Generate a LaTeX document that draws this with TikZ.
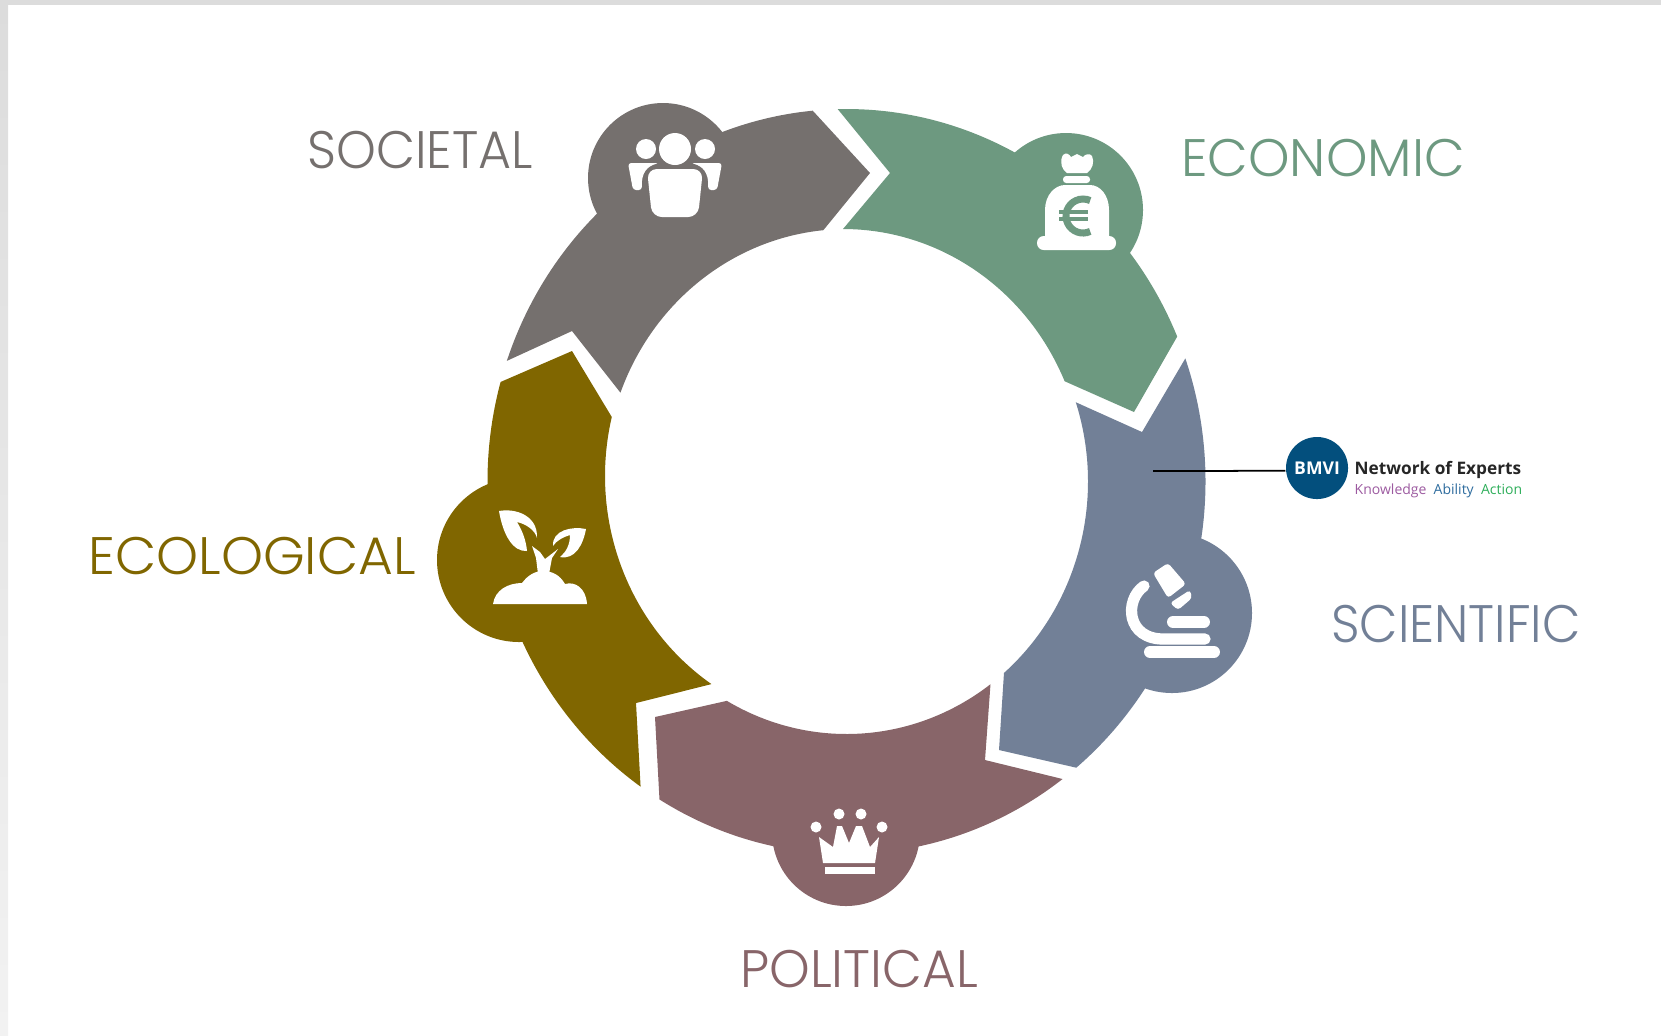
\documentclass[tikz,border=0pt]{standalone}
\usepackage{graphicx}
\usepackage{fontspec}
\setmainfont{Poppins Light}
\newfontfamily\logofont{Open Sans}
\usetikzlibrary{positioning}
\definecolor{societal}{HTML}{75706E}
\definecolor{economic}{HTML}{6D9980}
\definecolor{scientific}{HTML}{728097}
\definecolor{political}{HTML}{886569}
\definecolor{ecological}{HTML}{806600}
\definecolor{bmviblue}{HTML}{034F7D}
\definecolor{logopurple}{HTML}{9C5AA0}
\definecolor{logoblue}{HTML}{2E6C9E}
\definecolor{logogreen}{HTML}{2EAE5A}
\definecolor{frametop}{HTML}{DCDCDC}
\definecolor{framebot}{HTML}{F2F2F2}
\newcommand{\OuterArc}[2]{([shift={(846.5,481.5)}]#1:359 and 372.5) arc[start angle=#1, end angle=#2, x radius=359, y radius=372.5]}
\newcommand{\InnerArc}[2]{([shift={(846.5,481.5)}]#1:241.5 and 252.5) arc[start angle=#1, end angle=#2, x radius=241.5, y radius=252.5]}
\tikzset{
  x=0.01cm, y=-0.01cm,
  icon/.style={fill=white, draw=none},
  stroke/.style={draw=white, line cap=round},
  lbl/.style={font=\fontsize{15}{15}\selectfont, inner sep=0pt}
}
\begin{document}
\begin{tikzpicture}
    \useasboundingbox (0,0) rectangle (1661,1035);
    \shade[top color=frametop, bottom color=framebot] (0,0) rectangle (8,1035);
    \fill[frametop] (0,0) rectangle (1661,5);

    % societal
    \fill[societal] \OuterArc{-161.1}{-95.4} -- (870,173) -- \InnerArc{-95.5}{-159.4} -- (572,331) -- cycle;
    \fill[societal] (663,178) circle (75);
    % economic
    \fill[economic] \OuterArc{-91.4}{-22.9} -- (1134,412) -- ([shift={(843,481.5)}]-23.4:241.5 and 252.5) arc[start angle=-23.4, end angle=-90, x radius=241.5, y radius=252.5] -- (890,173) -- cycle;
    \fill[economic] (1066,210) circle (77);
    % scientific
    \fill[scientific] \OuterArc{-19.3}{50.2} -- (999,750) -- \InnerArc{49.3}{-18.3} -- (1142,432) -- cycle;
    \fill[scientific] (1172,613) circle (80);
    % political
    \fill[political] \OuterArc{53}{121.4} -- (655,717) -- \InnerArc{119.7}{53.4} -- (985,760) -- cycle;
    \fill[political] (846,832) circle (74);
    % ecological
    \fill[ecological] \OuterArc{125}{195.5} -- (572,351) -- ([shift={(846.5,476)}]193.6:241.5 and 251) arc[start angle=193.6, end angle=124, x radius=241.5, y radius=251] -- (636,703) -- cycle;
    \fill[ecological] (519,560) circle (82);

    % people
    \fill[icon] (675,149) circle (16);
    \fill[icon] (646,149) circle (10);
    \fill[icon] (705,149) circle (10);
    \fill[icon, rounded corners=2.8pt] (647,169) -- (703,169) -- (698,217) -- (652,217) -- cycle;
    \fill[icon, rounded corners=0.9pt] (628,163) -- (659,163) .. controls (648,166) and (641,172) .. (642,190) -- (633,190) -- cycle;
    \fill[icon, rounded corners=0.9pt] (722,163) -- (691,163) .. controls (702,166) and (709,172) .. (708,190) -- (717,190) -- cycle;

    % money bag
    \fill[icon] (1063,155) .. controls (1066,152) and (1069,154) .. (1071,157) -- (1077,154) -- (1083,157) .. controls (1085,154) and (1090,153) .. (1092,156)
      .. controls (1095,162) and (1092,170) .. (1087,173) -- (1067,173) .. controls (1062,170) and (1059,162) .. (1063,155) -- cycle;
    \fill[icon, rounded corners=0.9pt] (1063,176) rectangle (1090,183);
    \fill[icon] (1045,240) -- (1045,210) .. controls (1045,195) and (1055,185) .. (1065,185) -- (1090,185) .. controls (1100,185) and (1109,195) .. (1109,210) -- (1109,240) -- cycle;
    \fill[icon, rounded corners=1.9pt] (1037,236) rectangle (1116,250);
    \draw[economic, line width=2pt] (1083,216) ++(65:17) arc[start angle=65, end angle=295, radius=17];
    \draw[economic, line width=1.1pt] (1059,212) -- (1088,212);
    \draw[economic, line width=1.1pt] (1059,219) -- (1088,219);

    % microscope
    \fill[icon, rounded corners=0.9pt] (1153,573) -- (1168,563) -- (1186,584) -- (1168,598) -- cycle;
    \fill[icon, rounded corners=0.9pt] (1170,603) -- (1190,590) -- (1192,598) -- (1178,610) -- cycle;
    \draw[stroke, line width=3.4pt] (1173,622) -- (1204,622);
    \draw[stroke, line width=3.4pt] (1150,652) -- (1214,652);
    \draw[stroke, line width=3.2pt] (1144,586) .. controls (1124,600) and (1126,640) .. (1165,639) -- (1205,639);

    % crown
    \fill[icon] (816,827) circle (5.5);
    \fill[icon] (839,814) circle (5.5);
    \fill[icon] (861,814) circle (5.5);
    \fill[icon] (882,827) circle (5.5);
    \fill[icon] (819,837) -- (833,847) -- (837,826) -- (842,826) -- (849,843) -- (856,826) -- (862,826) -- (870,847) -- (879,837) -- (875,863) -- (823,863) -- cycle;
    \fill[icon] (825,867) rectangle (875,874);

    % plant
    \fill[icon] (493,604) .. controls (495,590) and (508,583) .. (522,583) .. controls (528,575) and (535,571) .. (543,571)
      .. controls (552,571) and (560,575) .. (565,584) .. controls (575,581) and (586,588) .. (587,604) -- cycle;
    \fill[icon] (538,574) -- (536,558) -- (532,546) -- (540,552) -- (545,559) -- (558,549) -- (552,558) -- (549,574) -- cycle;
    \fill[icon] (499,511) .. controls (515,508) and (538,515) .. (537,538) .. controls (535,530) and (526,524) .. (517,522)
      .. controls (522,530) and (526,540) .. (527,551) .. controls (513,552) and (503,535) .. cycle;
    \fill[icon] (586,529) .. controls (572,526) and (552,530) .. (553,546) .. controls (556,541) and (563,537) .. (570,535)
      .. controls (570,545) and (566,552) .. (560,557) .. controls (575,560) and (583,545) .. cycle;

    \node[lbl, text=societal] (societallbl) at (420,150) {\scalebox{0.96}[1]{SOCIETAL}};
    \node[lbl, text=economic] (economiclbl) at (1323,158) {ECONOMIC};
    \node[lbl, text=scientific] (scientificlbl) at (1456,624) {\scalebox{0.945}[1]{SCIENTIFIC}};
    \node[lbl, text=political] (politicallbl) at (859,969) {\scalebox{0.98}[1]{POLITICAL}};
    \node[lbl, text=ecological] (ecologicallbl) at (252,556) {\scalebox{1.013}[1]{ECOLOGICAL}};

    \node[circle, fill=bmviblue, minimum size=62*0.1mm, inner sep=0pt, text=white, font=\logofont\bfseries\fontsize{5}{5}\selectfont] (bmvi) at (1317,468) {BMVI};
    \node[inner sep=0pt, anchor=base west, text=black!85, font=\logofont\bfseries\fontsize{4.9}{5}\selectfont] (network) at (1354,474) {Network of Experts};
    \node[inner sep=0pt, anchor=base west, font=\logofont\fontsize{3.98}{4}\selectfont] (motto) at (1354,494)
      {\textcolor{logopurple}{Knowledge}\ \ \textcolor{logoblue}{Ability}\ \ \textcolor{logogreen}{Action}};

    \coordinate (lineend) at (1153,471);
    \draw[black, line width=0.5pt] (lineend) -- (bmvi.185);
\end{tikzpicture}
\end{document}
